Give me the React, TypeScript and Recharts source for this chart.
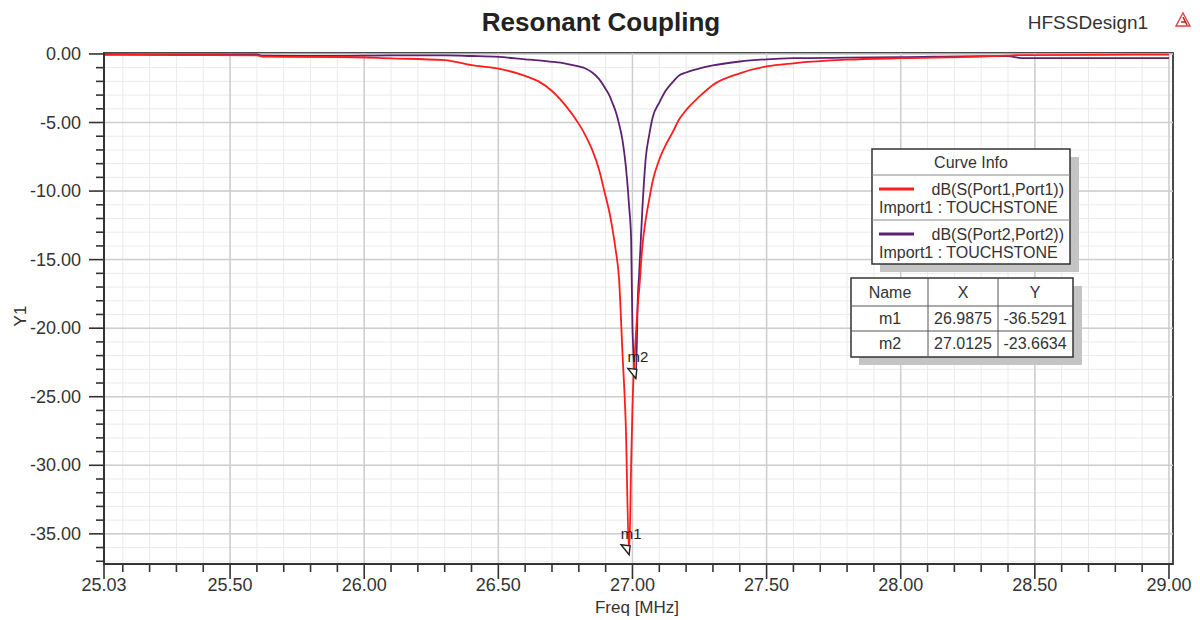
import React from "react";
import {
  ComposedChart,
  Line,
  XAxis,
  YAxis,
  CartesianGrid,
  ReferenceLine,
  ReferenceDot,
  ReferenceArea,
} from "recharts";

// frequency points in MHz
const freq = [
  25.03, 25.3, 25.6, 25.62, 25.9, 26.1, 26.3, 26.4, 26.5, 26.6, 26.65, 26.7,
  26.75, 26.8, 26.825, 26.85, 26.875, 26.9, 26.9125, 26.925, 26.9375, 26.95,
  26.9625, 26.975, 26.9875, 26.995, 27.0, 27.0125, 27.02, 27.025, 27.0375,
  27.05, 27.0625, 27.075, 27.1, 27.125, 27.15, 27.175, 27.2, 27.25, 27.3, 27.4,
  27.5, 27.6, 27.8, 28.0, 28.3, 28.4, 28.45, 28.75, 29.0,
];

// dB(S(Port1,Port1))
const s11 = [
  -0.07, -0.08, -0.1, -0.2, -0.22, -0.32, -0.45, -0.82, -1.07, -1.6, -2.0, -2.7,
  -3.75, -5.1, -5.95, -7.0, -8.4, -10.4, -11.4, -12.7, -14.3, -16.4,
  -21.7, -27.0, -36.53, -30.0, -25.8, -20.6, -18.3, -17.2, -13.9,
  -12.0, -10.6, -9.3, -7.7, -6.6, -5.7, -4.75, -4.1, -3.1, -2.26, -1.41,
  -0.91, -0.68, -0.42, -0.31, -0.2, -0.12, -0.08, -0.06, -0.05,
];

// dB(S(Port2,Port2))
const s22 = [
  -0.02, -0.03, -0.04, -0.12, -0.14, -0.1, -0.1, -0.15, -0.22, -0.39, -0.47, -0.57,
  -0.7, -0.91, -1.06, -1.35, -1.82, -2.55, -2.97, -3.55, -4.2, -5.1,
  -6.25, -8.15, -11.1, -13.5, -20.0, -23.66, -17.8, -16.0, -11.1,
  -7.5, -5.9, -4.65, -3.55, -2.65, -2.05, -1.55, -1.35, -1.06, -0.84, -0.55,
  -0.39, -0.31, -0.27, -0.24, -0.16, -0.16, -0.3, -0.3, -0.3,
];

const seriesNames = ["dB(S(Port1,Port1))", "dB(S(Port2,Port2))"];
const seriesSource = "Import1 : TOUCHSTONE";
const seriesColors = ["#ff1c1c", "#5c2270"];

const markerNames = ["m1", "m2"];
const markerX = [26.9875, 27.0125];
const markerY = [-36.5291, -23.6634];

const xMajor = [25.03, 25.5, 26.0, 26.5, 27.0, 27.5, 28.0, 28.5, 29.0];
const yMajor = [0, -5, -10, -15, -20, -25, -30, -35];
const xTicks = [25.03, ...Array.from({ length: 40 }, (_, i) => +(25.1 + i * 0.1).toFixed(2))];
const yTicks = Array.from({ length: 38 }, (_, i) => -37 + i);

const xDomain: [number, number] = [25.03, 29.015];
const yDomain: [number, number] = [-37.2, 0.07];

const rows = freq.map((f, i) => ({ f, s11: s11[i], s22: s22[i] }));

const FONT = '"Liberation Sans", Arial, sans-serif';
const TEXT = "#333";

const isMajor = (v: number, majors: number[]) => majors.some((m) => Math.abs(m - v) < 1e-6);

function XTick(props: any) {
  const { x, y, payload } = props;
  const major = isMajor(payload.value, xMajor);
  return (
    <g>
      <line x1={x} x2={x} y1={y} y2={y + (major ? 15 : 8)} stroke="#333" strokeWidth={1.6} />
      {major && (
        <text x={x} y={y + 27} textAnchor="middle" fontSize={18} fill={TEXT} fontFamily={FONT}>
          {payload.value.toFixed(2)}
        </text>
      )}
    </g>
  );
}

function YTick(props: any) {
  const { x, y, payload } = props;
  const major = isMajor(payload.value, yMajor);
  return (
    <g>
      <line x1={x - (major ? 15 : 8)} x2={x} y1={y} y2={y} stroke="#333" strokeWidth={1.6} />
      {major && (
        <text x={x - 23} y={y + 6} textAnchor="end" fontSize={18} fill={TEXT} fontFamily={FONT}>
          {payload.value.toFixed(2)}
        </text>
      )}
    </g>
  );
}

function markerShape(name: string) {
  return (props: any) => {
    const { cx, cy } = props;
    return (
      <g>
        <text x={cx + 2} y={cy - 16} textAnchor="middle" fontSize={15} fill="#222" fontFamily={FONT}>
          {name}
        </text>
        <polygon
          points={`${cx - 8},${cy - 10} ${cx + 1},${cy - 9} ${cx},${cy}`}
          fill="#fff"
          stroke="#222"
          strokeWidth={1.4}
        />
      </g>
    );
  };
}

export default function App() {
  return (
    <div
      style={{
        position: "absolute",
        left: 0,
        top: 0,
        width: 1200,
        height: 620,
        background: "#fff",
        fontFamily: FONT,
      }}
    >
      <ComposedChart width={1200} height={620} data={rows} margin={{ top: 53, right: 27, bottom: 0, left: 0 }}>
        <CartesianGrid stroke="#ebebeb" strokeWidth={1} />
        {xMajor.map((v) => (
          <ReferenceLine key={"vx" + v} x={v} stroke="#cdcdcd" strokeWidth={1.5} />
        ))}
        {yMajor.map((v) => (
          <ReferenceLine key={"hy" + v} y={v} stroke="#cdcdcd" strokeWidth={1.5} />
        ))}
        <XAxis
          dataKey="f"
          type="number"
          domain={xDomain}
          ticks={xTicks}
          interval={0}
          allowDataOverflow
          height={56}
          tickSize={0}
          tickMargin={0}
          tickLine={false}
          tick={<XTick />}
          axisLine={{ stroke: "#333", strokeWidth: 2 }}
        />
        <YAxis
          type="number"
          domain={yDomain}
          ticks={yTicks}
          interval={0}
          allowDataOverflow
          width={104}
          tickSize={0}
          tickMargin={0}
          tickLine={false}
          tick={<YTick />}
          axisLine={{ stroke: "#333", strokeWidth: 2 }}
        />
        <Line
          type="monotoneX"
          dataKey="s22"
          stroke={seriesColors[1]}
          strokeWidth={1.8}
          dot={false}
          isAnimationActive={false}
        />
        <Line
          type="monotoneX"
          dataKey="s11"
          stroke={seriesColors[0]}
          strokeWidth={1.8}
          dot={false}
          isAnimationActive={false}
        />
        <ReferenceArea
          x1={xDomain[0]}
          x2={xDomain[1]}
          y1={yDomain[0]}
          y2={yDomain[1]}
          fill="none"
          fillOpacity={0}
          stroke="#4a4a4a"
          strokeWidth={2}
        />
        {markerNames.map((n, i) => (
          <ReferenceDot key={n} x={markerX[i]} y={markerY[i]} r={0} shape={markerShape(n)} />
        ))}
      </ComposedChart>

      <svg
        width={1200}
        height={620}
        style={{ position: "absolute", left: 0, top: 0, pointerEvents: "none" }}
        fontFamily={FONT}
      >
        <text x={601} y={31} textAnchor="middle" fontSize={26} fontWeight="bold" fill="#222">
          Resonant Coupling
        </text>
        <text x={1088} y={29} textAnchor="middle" fontSize={19} fill={TEXT}>
          HFSSDesign1
        </text>
        <g>
          <path d="M1183 13 L1190 26 L1176 26 Z" fill="none" stroke="#e04040" strokeWidth={1.4} />
          <path d="M1181 22 L1186 22 M1183 17 L1187 25" stroke="#c02020" strokeWidth={1.6} />
        </g>
        <text x={637} y={613} textAnchor="middle" fontSize={17} fill={TEXT}>
          Freq [MHz]
        </text>
        <text x={26} y={316} textAnchor="middle" fontSize={17} fill={TEXT} transform="rotate(-90 26 316)">
          Y1
        </text>

        {/* Curve Info box */}
        <rect x={880} y={157} width={199} height={115} fill="#c4c4c4" />
        <rect x={872} y={149} width={198} height={115} fill="#fff" stroke="#333" strokeWidth={1.5} />
        <line x1={872} x2={1070} y1={175} y2={175} stroke="#888" strokeWidth={1} />
        <line x1={872} x2={1070} y1={220} y2={220} stroke="#888" strokeWidth={1} />
        <text x={971} y={168} textAnchor="middle" fontSize={16} fill={TEXT}>
          Curve Info
        </text>
        {seriesNames.map((n, i) => {
          const top = 175 + i * 45;
          return (
            <g key={n}>
              <line x1={879} x2={914} y1={top + 14} y2={top + 14} stroke={seriesColors[i]} strokeWidth={3} />
              <text x={1064} y={top + 20} textAnchor="end" fontSize={16} fill={TEXT}>
                {n}
              </text>
              <text x={879} y={top + 38} fontSize={16} fill={TEXT}>
                {seriesSource}
              </text>
            </g>
          );
        })}

        {/* marker table */}
        <rect x={859} y={286} width={223} height={79} fill="#c4c4c4" />
        <rect x={851} y={278} width={222} height={79} fill="#fff" stroke="#333" strokeWidth={1.5} />
        <line x1={851} x2={1073} y1={306} y2={306} stroke="#555" strokeWidth={1} />
        <line x1={851} x2={1073} y1={331} y2={331} stroke="#555" strokeWidth={1} />
        <line x1={928} x2={928} y1={278} y2={357} stroke="#555" strokeWidth={1} />
        <line x1={998} x2={998} y1={278} y2={357} stroke="#555" strokeWidth={1} />
        <text x={890} y={298} textAnchor="middle" fontSize={16} fill={TEXT}>Name</text>
        <text x={963} y={298} textAnchor="middle" fontSize={16} fill={TEXT}>X</text>
        <text x={1035} y={298} textAnchor="middle" fontSize={16} fill={TEXT}>Y</text>
        {markerNames.map((n, i) => {
          const cy = 324 + i * 25;
          return (
            <g key={"row" + n}>
              <text x={890} y={cy} textAnchor="middle" fontSize={16} fill={TEXT}>{n}</text>
              <text x={963} y={cy} textAnchor="middle" fontSize={16} fill={TEXT}>{markerX[i].toFixed(4)}</text>
              <text x={1035} y={cy} textAnchor="middle" fontSize={16} fill={TEXT}>{markerY[i].toFixed(4)}</text>
            </g>
          );
        })}
      </svg>
    </div>
  );
}
